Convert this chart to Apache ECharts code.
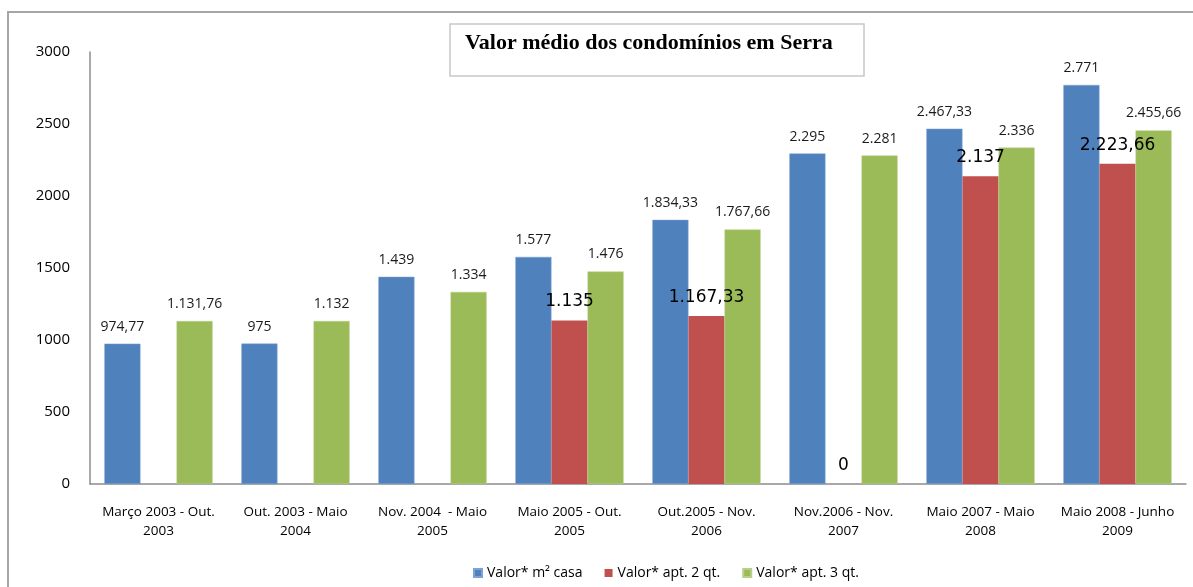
<!DOCTYPE html>
<html>
<head>
<meta charset="utf-8">
<title>Valor médio dos condomínios em Serra</title>
<script src="https://cdn.jsdelivr.net/npm/echarts@6/dist/echarts.min.js"></script>
<style>
  html, body { margin: 0; padding: 0; background: #fff; }
  #chart { width: 1193px; height: 587px; }
</style>
</head>
<body>
<div id="chart"></div>
<script>
// dados
var periodos = [
  'Março 2003 - Out.\n2003',
  'Out. 2003 - Maio\n2004',
  'Nov. 2004  - Maio\n2005',
  'Maio 2005 - Out.\n2005',
  'Out.2005 - Nov.\n2006',
  'Nov.2006 - Nov.\n2007',
  'Maio 2007 - Maio\n2008',
  'Maio 2008 - Junho\n2009'
];
var casa = [974.77, 975, 1439, 1577, 1834.33, 2295, 2467.33, 2771];
var apt2 = [null, null, null, 1135, 1167.33, 0, 2137, 2223.66];
var apt3 = [1131.76, 1132, 1334, 1476, 1767.66, 2281, 2336, 2455.66];
var nomes = ['Valor* m² casa', 'Valor* apt. 2 qt.', 'Valor* apt. 3 qt.'];
var yTicks = [0, 500, 1000, 1500, 2000, 2500, 3000];

// formato pt-BR: 1.234,56
function fmt(v) {
  if (v === null || v === undefined) return '';
  var inteiro = Math.floor(v);
  var dec = Math.round((v - inteiro) * 100);
  var s = String(inteiro).replace(/\B(?=(\d{3})+(?!\d))/g, '.');
  if (dec > 0) s += ',' + (dec < 10 ? '0' + dec : dec);
  return s;
}

var fonte = '"Open Sans", "Noto Sans", sans-serif';
var chart = echarts.init(document.getElementById('chart'));

chart.setOption({
  animation: false,
  color: ['#4F81BD', '#C0504D', '#9BBB59'],
  textStyle: { fontFamily: fonte },
  graphic: [
    {
      type: 'rect', silent: true, z: -10,
      shape: { x: 8, y: 12, width: 1200, height: 600 },
      style: { fill: '#fff', stroke: '#a6a6a6', lineWidth: 2 }
    },
    {
      type: 'rect', silent: true, z: -5,
      shape: { x: 450, y: 24, width: 414, height: 52 },
      style: { fill: '#fff', stroke: '#c8c8c8', lineWidth: 1.5 }
    }
  ],
  title: {
    text: 'Valor médio dos condomínios em Serra',
    left: 465,
    top: 32,
    padding: 0,
    textStyle: {
      fontFamily: '"Liberation Serif", serif',
      fontWeight: 'bold',
      fontSize: 22,
      color: '#000'
    }
  },
  legend: {
    data: nomes,
    left: 468,
    top: 561,
    itemWidth: 8,
    itemHeight: 8,
    itemGap: 22,
    icon: 'rect',
    textStyle: { fontSize: 14, color: '#000', fontFamily: fonte }
  },
  grid: { left: 90, right: 7, top: 52, bottom: 103, containLabel: false },
  xAxis: {
    type: 'category',
    data: periodos,
    axisLine: { lineStyle: { color: '#8c8c8c', width: 1.5 } },
    axisTick: { show: false },
    axisLabel: {
      interval: 0,
      margin: 19,
      fontSize: 13.5,
      lineHeight: 19,
      color: '#000'
    }
  },
  yAxis: {
    type: 'value',
    min: yTicks[0],
    max: yTicks[yTicks.length - 1],
    interval: 500,
    axisLine: { show: true, lineStyle: { color: '#8c8c8c', width: 1.5 } },
    axisTick: { show: false },
    splitLine: { show: false },
    axisLabel: {
      fontSize: 15, color: '#000', margin: 20,
      formatter: function (v) { return String(v); }
    }
  },
  series: [
    {
      name: nomes[0], type: 'bar', data: casa,
      barGap: '0%', barCategoryGap: '21%',
      itemStyle: { borderColor: '#7ea3d3', borderWidth: 0.5 },
      label: {
        show: true, position: 'top', distance: 10,
        fontSize: 14, color: '#1a1a1a',
        formatter: function (p) { return fmt(p.value); }
      }
    },
    {
      name: nomes[1], type: 'bar', data: apt2,
      barGap: '0%', barCategoryGap: '21%',
      label: {
        show: true, position: 'top', distance: 10,
        fontSize: 17, color: '#000',
        fontFamily: '"DejaVu Sans", sans-serif',
        formatter: function (p) { return fmt(p.value); }
      }
    },
    {
      name: nomes[2], type: 'bar', data: apt3,
      barGap: '0%', barCategoryGap: '21%',
      itemStyle: { borderColor: '#b8d08a', borderWidth: 0.5 },
      label: {
        show: true, position: 'top', distance: 10,
        fontSize: 14, color: '#1a1a1a',
        formatter: function (p) { return fmt(p.value); }
      }
    }
  ]
});
</script>
</body>
</html>
